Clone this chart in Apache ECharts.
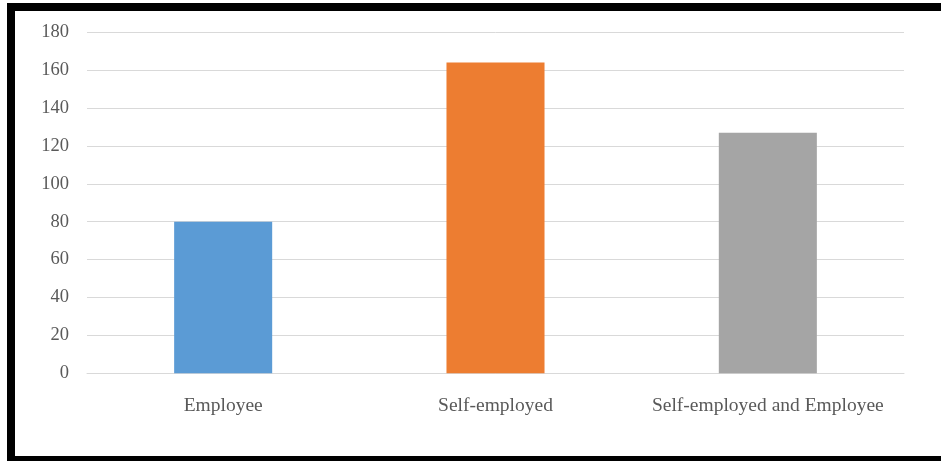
<!DOCTYPE html>
<html>
<head>
<meta charset="utf-8">
<script src="https://cdn.jsdelivr.net/npm/echarts@6/dist/echarts.min.js"></script>
<style>
  html, body { margin: 0; padding: 0; background: #fff; }
  #chart { width: 941px; height: 461px; }
</style>
</head>
<body>
<div id="chart"></div>
<script>
const categories = ['Employee', 'Self-employed', 'Self-employed and Employee'];
const values = [80, 164, 127];
const barColors = ['#5b9bd5', '#ed7d31', '#a5a5a5'];
const yTicks = { min: 0, max: 180, interval: 20 };

const chart = echarts.init(document.getElementById('chart'), null, { renderer: 'canvas' });
const fontFamily = '"Liberation Serif", "DejaVu Serif", serif';

chart.setOption({
  backgroundColor: '#ffffff',
  animation: false,
  grid: { left: 87, right: 37, top: 32.3, bottom: 87.7, containLabel: false },
  xAxis: {
    type: 'category',
    data: categories,
    axisLine: { lineStyle: { color: '#d9d9d9', width: 1 } },
    axisTick: { show: false },
    axisLabel: { color: '#595959', fontFamily, fontSize: 19.5, margin: 23, interval: 0, hideOverlap: false }
  },
  yAxis: {
    type: 'value',
    min: yTicks.min,
    max: yTicks.max,
    interval: yTicks.interval,
    axisLine: { show: false },
    axisTick: { show: false },
    splitLine: { lineStyle: { color: '#d9d9d9', width: 1 } },
    axisLabel: { color: '#595959', fontFamily, fontSize: 18.5, margin: 18 }
  },
  series: [{
    type: 'bar',
    data: values.map((v, i) => ({ value: v, itemStyle: { color: barColors[i] } })),
    barWidth: '36%'
  }],
  graphic: [
    { type: 'rect', shape: { x: 7, y: 3, width: 934, height: 8 }, style: { fill: '#000' } },
    { type: 'rect', shape: { x: 7, y: 3, width: 8, height: 458 }, style: { fill: '#000' } },
    { type: 'rect', shape: { x: 7, y: 456, width: 934, height: 5 }, style: { fill: '#000' } }
  ]
});
</script>
</body>
</html>
